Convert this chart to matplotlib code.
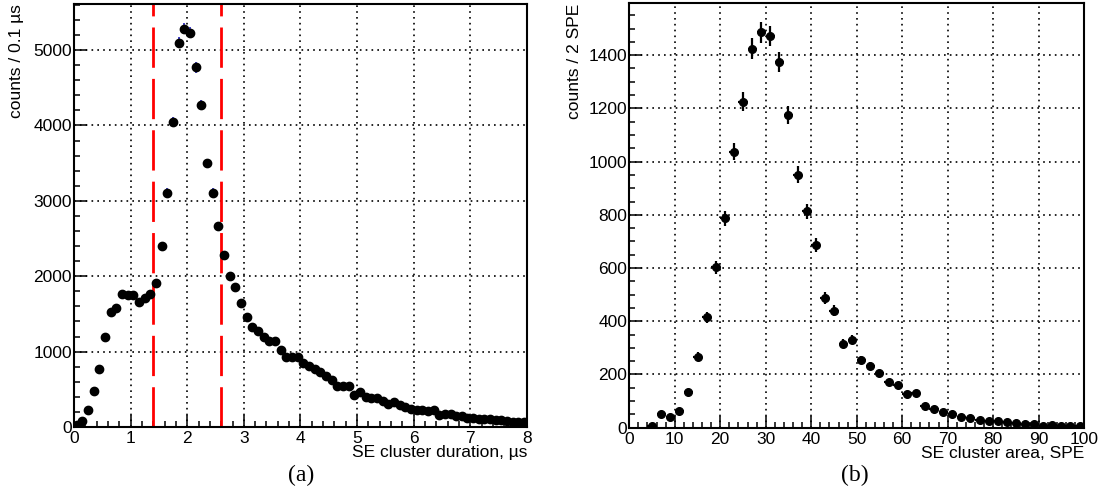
import numpy as np
import matplotlib
matplotlib.use("Agg")
import matplotlib.pyplot as plt
from matplotlib.ticker import MultipleLocator

# (a) SE cluster duration, 0.1 us bins
dur_x = np.arange(0.05, 8.0, 0.1)
dur_counts = [30, 80, 230, 480, 765, 1200, 1530, 1580, 1760, 1755,
              1755, 1655, 1710, 1760, 1910, 2395, 3110, 4050, 5100, 5280,
              5230, 4770, 4270, 3500, 3110, 2665, 2280, 2000, 1855, 1640,
              1455, 1325, 1270, 1200, 1135, 1135, 1015, 935, 935, 935,
              855, 810, 765, 735, 675, 630, 550, 540, 540, 430,
              465, 395, 385, 380, 350, 310, 335, 290, 265, 245,
              230, 220, 210, 220, 165, 175, 175, 150, 140, 120,
              115, 110, 105, 100, 95, 88, 80, 72, 65, 60]
cut_lo, cut_hi = 1.4, 2.6

# (b) SE cluster area, 2 SPE bins
area_x = np.arange(5, 100, 2)
area_counts = [5, 51, 39, 63, 135, 267, 415, 603, 787, 1038,
               1225, 1425, 1486, 1472, 1375, 1174, 951, 813, 687, 487,
               440, 316, 331, 254, 231, 204, 171, 160, 125, 131,
               81, 71, 59, 52, 42, 36, 30, 26, 24, 21,
               16, 15, 14, 6, 10, 8, 8, 6]

plt.rcParams['font.family'] = ['Liberation Sans', 'DejaVu Sans']
plt.rcParams['font.size'] = 12.5

fig = plt.figure(figsize=(11.04, 4.97), dpi=100)
ax1 = fig.add_axes([0.067, 0.1408, 0.4103, 0.851])
ax2 = fig.add_axes([0.570, 0.1394, 0.412, 0.854])


def style(ax, xmaj, xmin, ymaj, ymin):
    ax.xaxis.set_major_locator(MultipleLocator(xmaj))
    ax.xaxis.set_minor_locator(MultipleLocator(xmin))
    ax.yaxis.set_major_locator(MultipleLocator(ymaj))
    ax.yaxis.set_minor_locator(MultipleLocator(ymin))
    ax.tick_params(which='both', direction='in', top=False, right=False, width=1.1)
    ax.tick_params(which='major', length=9)
    ax.tick_params(which='minor', length=4.5)
    ax.tick_params(axis='y', pad=1.5)
    ax.tick_params(axis='x', pad=3)
    ax.grid(True, which='major', color='black', linestyle=(0, (1, 2.5)), linewidth=1.2)
    ax.set_axisbelow(True)
    for s in ax.spines.values():
        s.set_linewidth(1.5)


# left panel
dur_counts = np.array(dur_counts)
ax1.axvline(cut_lo, color='red', lw=2, dashes=(14.5, 4), zorder=2)
ax1.axvline(cut_hi, color='red', lw=2, dashes=(14.5, 4), zorder=2)
ax1.errorbar(dur_x, dur_counts, yerr=np.sqrt(dur_counts), fmt='none',
             ecolor='#2020c0', elinewidth=1.2, zorder=3)
ax1.plot(dur_x, dur_counts, 'o', color='black', ms=6, zorder=4)
ax1.set_xlim(0, 8)
ax1.set_ylim(0, 5610)
style(ax1, 1, 0.2, 1000, 200)
ax1.set_ylabel('counts / 0.1 µs', loc='top')
ax1.yaxis.set_label_coords(-0.110, 1.0)
ax1.set_xlabel('SE cluster duration, µs', loc='right')
ax1.xaxis.set_label_coords(1.0, -0.043)

# right panel
area_counts = np.array(area_counts)
ax2.errorbar(area_x, area_counts, xerr=1, yerr=np.sqrt(area_counts), fmt='o',
             color='black', ms=5.5, elinewidth=1.6, capsize=0, zorder=4)
ax2.set_xlim(0, 100)
ax2.set_ylim(0, 1595)
style(ax2, 10, 2, 200, 50)
ax2.set_ylabel('counts / 2 SPE', loc='top')
ax2.yaxis.set_label_coords(-0.105, 1.0)
ax2.set_xlabel('SE cluster area, SPE', loc='right')
ax2.xaxis.set_label_coords(1.0, -0.043)

fig.text(301 / 1104, 1 - 475 / 497, '(a)', family='Liberation Serif', fontsize=17,
         ha='center', va='center')
fig.text(855 / 1104, 1 - 475 / 497, '(b)', family='Liberation Serif', fontsize=17,
         ha='center', va='center')

fig.savefig('out.png', dpi=100)
